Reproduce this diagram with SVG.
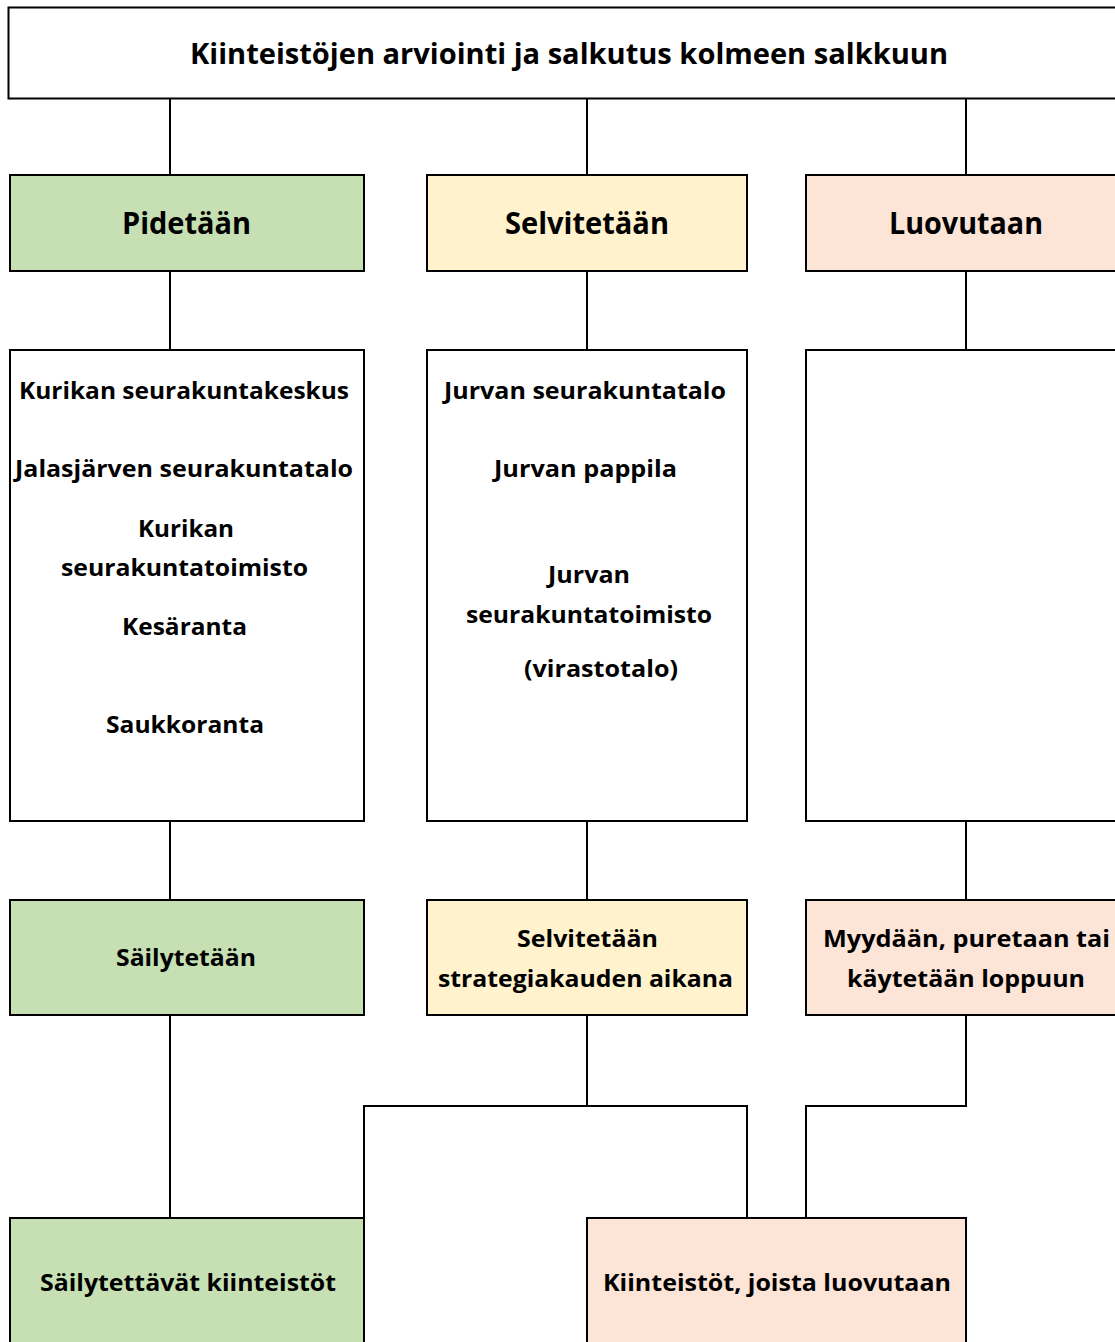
<svg xmlns="http://www.w3.org/2000/svg" width="1115" height="1342" viewBox="0 0 1115 1342">
<style>
.box{stroke:#000;stroke-width:2}
.g{fill:#C6E0B4}.y{fill:#FFF2CC}.p{fill:#FCE4D6}.w{fill:#fff}
text{font-family:"Open Sans","Liberation Sans",sans-serif;font-weight:bold;fill:#000;text-anchor:middle}
.t{font-size:28px}.h{font-size:30px}.s{font-size:24px}
.c{stroke:#000;stroke-width:2;fill:none}
</style>
<rect width="1115" height="1342" fill="#fff"/>
<g id="connectors">
<path class="c" d="M170 99V175M587 99V175M966 99V175"/>
<path class="c" d="M170 271V350M587 271V350M966 271V350"/>
<path class="c" d="M170 821V900M587 821V900M966 821V900"/>
<path class="c" d="M170 1015V1218"/>
<path class="c" d="M587 1015V1106M364 1218V1106H747V1218"/>
<path class="c" d="M966 1015V1106H806V1218"/>
</g>
<g id="title"><rect class="box w" x="8.5" y="7.5" width="1120" height="91" stroke-width="3"/>
<text class="t" x="569" y="64" textLength="758" lengthAdjust="spacingAndGlyphs">Kiinteistöjen arviointi ja salkutus kolmeen salkkuun</text></g>
<g id="pidetaan"><rect class="box g" x="10" y="175" width="354" height="96"/>
<text class="h" x="186.5" y="234" textLength="129" lengthAdjust="spacingAndGlyphs">Pidetään</text></g>
<g id="selvitetaan"><rect class="box y" x="427" y="175" width="320" height="96"/>
<text class="h" x="587" y="234" textLength="164" lengthAdjust="spacingAndGlyphs">Selvitetään</text></g>
<g id="luovutaan"><rect class="box p" x="806" y="175" width="320" height="96"/>
<text class="h" x="966" y="234" textLength="154" lengthAdjust="spacingAndGlyphs">Luovutaan</text></g>
<g id="list1"><rect class="box w" x="10" y="350" width="354" height="471"/>
<text class="s" x="184" y="399" textLength="330" lengthAdjust="spacingAndGlyphs">Kurikan seurakuntakeskus</text>
<text class="s" x="184" y="477" textLength="338" lengthAdjust="spacingAndGlyphs">Jalasjärven seurakuntatalo</text>
<text class="s" x="186" y="537" textLength="96" lengthAdjust="spacingAndGlyphs">Kurikan</text>
<text class="s" x="184.5" y="576" textLength="247" lengthAdjust="spacingAndGlyphs">seurakuntatoimisto</text>
<text class="s" x="184.5" y="635" textLength="125" lengthAdjust="spacingAndGlyphs">Kesäranta</text>
<text class="s" x="185" y="733" textLength="158" lengthAdjust="spacingAndGlyphs">Saukkoranta</text></g>
<g id="list2"><rect class="box w" x="427" y="350" width="320" height="471"/>
<text class="s" x="585" y="399" textLength="282" lengthAdjust="spacingAndGlyphs">Jurvan seurakuntatalo</text>
<text class="s" x="585.5" y="477" textLength="183" lengthAdjust="spacingAndGlyphs">Jurvan pappila</text>
<text class="s" x="589" y="583" textLength="82" lengthAdjust="spacingAndGlyphs">Jurvan</text>
<text class="s" x="589" y="623" textLength="246" lengthAdjust="spacingAndGlyphs">seurakuntatoimisto</text>
<text class="s" x="601" y="677" textLength="154" lengthAdjust="spacingAndGlyphs">(virastotalo)</text></g>
<g id="list3"><rect class="box w" x="806" y="350" width="320" height="471"/></g>
<g id="sailytetaan"><rect class="box g" x="10" y="900" width="354" height="115"/>
<text class="s" x="186" y="966" textLength="140" lengthAdjust="spacingAndGlyphs">Säilytetään</text></g>
<g id="selvitetaan2"><rect class="box y" x="427" y="900" width="320" height="115"/>
<text class="s" x="587.5" y="947" textLength="141" lengthAdjust="spacingAndGlyphs">Selvitetään</text>
<text class="s" x="585.5" y="987" textLength="295" lengthAdjust="spacingAndGlyphs">strategiakauden aikana</text></g>
<g id="myydaan"><rect class="box p" x="806" y="900" width="320" height="115"/>
<text class="s" x="966.5" y="947" textLength="287" lengthAdjust="spacingAndGlyphs">Myydään, puretaan tai</text>
<text class="s" x="966" y="987" textLength="238" lengthAdjust="spacingAndGlyphs">käytetään loppuun</text></g>
<g id="sailytettavat"><rect class="box g" x="10" y="1218" width="354" height="140"/>
<text class="s" x="188" y="1291" textLength="296" lengthAdjust="spacingAndGlyphs">Säilytettävät kiinteistöt</text></g>
<g id="luovutettavat"><rect class="box p" x="587" y="1218" width="379" height="140"/>
<text class="s" x="777" y="1291" textLength="348" lengthAdjust="spacingAndGlyphs">Kiinteistöt, joista luovutaan</text></g>
</svg>
